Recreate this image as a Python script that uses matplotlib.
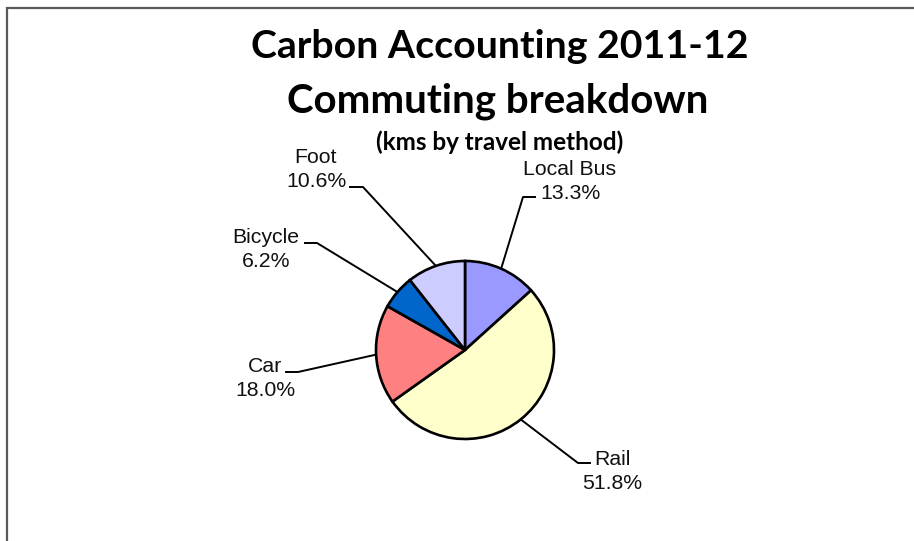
import matplotlib
matplotlib.use("Agg")
import matplotlib.pyplot as plt
import numpy as np

# ---- data ----
categories = ["Local Bus", "Rail", "Car", "Bicycle", "Foot"]
shares = [13.3, 51.8, 18.0, 6.2, 10.6]
colors = ["#9999FF", "#FFFFCC", "#FF8080", "#0066CC", "#CCCCFF"]
title_lines = ["Carbon Accounting 2011-12", "Commuting breakdown"]
subtitle = "(kms by travel method)"

# label layout (pixel coords, y from top): text centre x, baseline of first line,
# elbow of the leader line, end of its short horizontal tick
label_x = [570, 612, 265, 266, 316]
label_baseline = [175, 465, 372, 243, 163]
label_elbow = [(523, 197), (578, 463), (298, 372), (317, 243), (363, 187)]
label_tick_end = [(535, 197), (590, 463), (286, 372), (305, 243), (350, 187)]

W, H = 914, 541
fig = plt.figure(figsize=(W / 100, H / 100), dpi=100)
bg = fig.add_axes([0, 0, 1, 1])
bg.set_xlim(0, W)
bg.set_ylim(H, 0)
bg.axis("off")

# frame
bg.plot([7, 7, W + 5], [H + 5, 8, 8], color="#5a5a5a", lw=1.6, solid_capstyle="butt",
        solid_joinstyle="miter")

# pie
cx, cy, r = 465, 350, 89
ax = fig.add_axes([(cx - r) / W, (H - cy - r) / H, 2 * r / W, 2 * r / H])
wedges, _ = ax.pie(shares, colors=colors, startangle=90, counterclock=False,
                   wedgeprops=dict(edgecolor="black", linewidth=1.9))
ax.set_xlim(-1, 1)
ax.set_ylim(-1, 1)
ax.set_aspect("auto")
ax.axis("off")

label_font = dict(family=["Liberation Sans", "DejaVu Sans"], fontsize=15.3, color="#111111")
for w, name, val, lx, lb, el, te in zip(wedges, categories, shares, label_x,
                                        label_baseline, label_elbow, label_tick_end):
    mid = np.deg2rad((w.theta1 + w.theta2) / 2)
    ex, ey = cx + r * np.cos(mid), cy - r * np.sin(mid)
    bg.plot([ex, el[0], te[0]], [ey, el[1], te[1]], color="black", lw=1.4)
    bg.text(lx, lb, name, ha="center", va="baseline", **label_font)
    bg.text(lx, lb + 24, f"{val:.1f}%", ha="center", va="baseline", **label_font)

title_font = dict(family=["Lato", "DejaVu Sans"], fontweight="bold", color="black")
bg.text(500, 58, title_lines[0], ha="center", va="baseline", fontsize=28.3, **title_font)
bg.text(498, 112, title_lines[1], ha="center", va="baseline", fontsize=29, **title_font)
bg.text(500, 150, subtitle, ha="center", va="baseline", fontsize=17.5, **title_font)

fig.savefig("out.png", dpi=100)
